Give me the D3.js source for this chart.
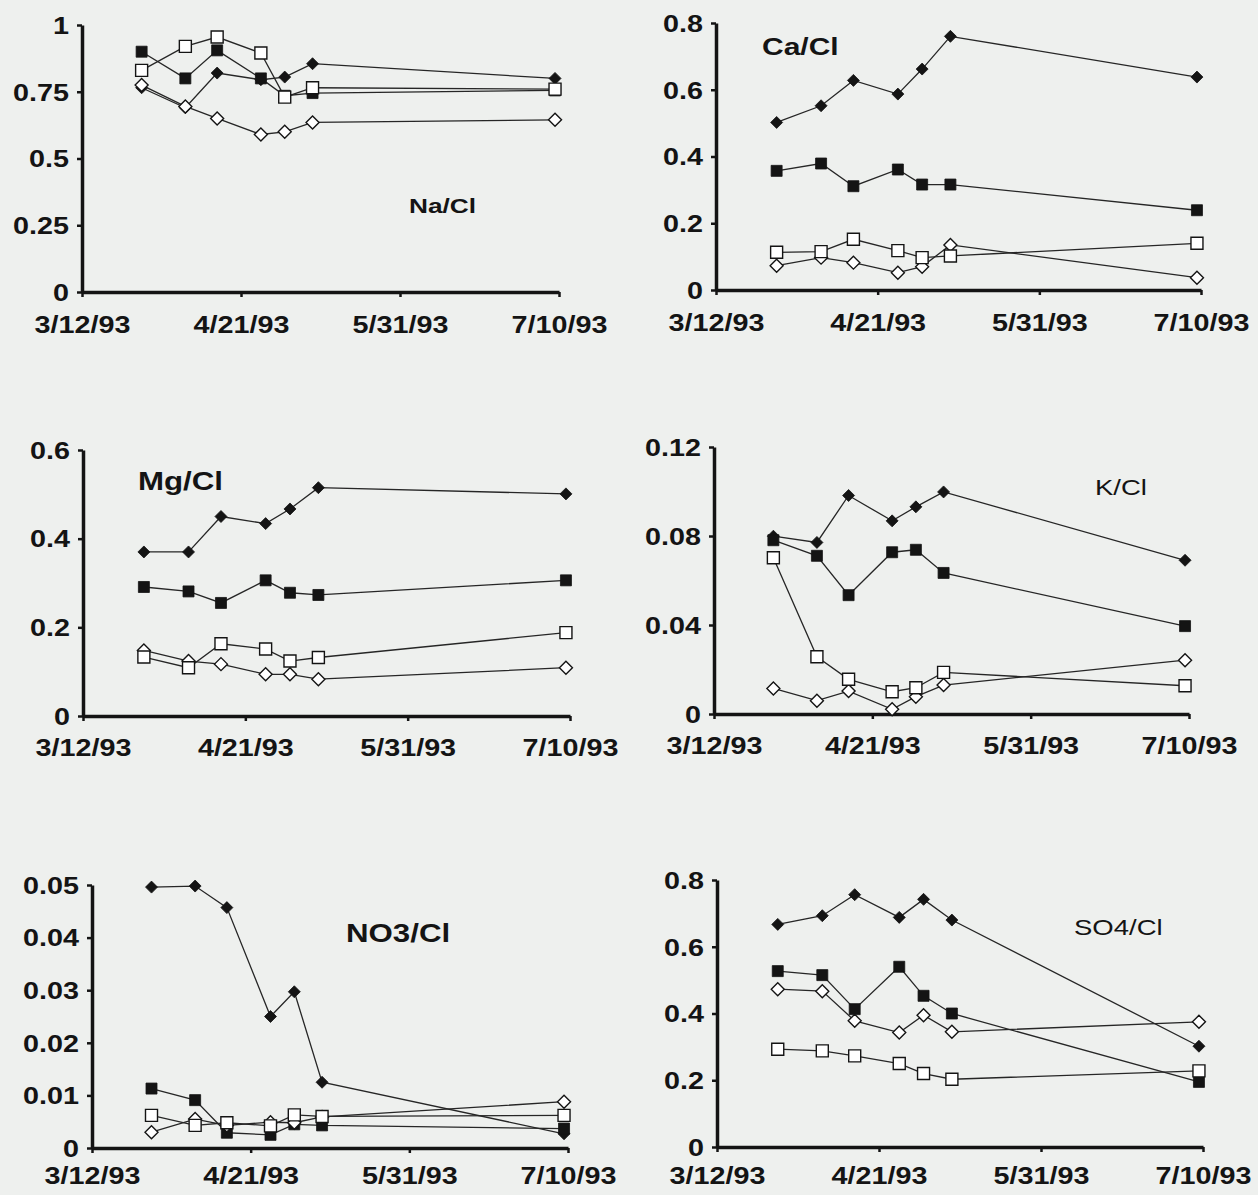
<!DOCTYPE html>
<html>
<head>
<meta charset="utf-8">
<script src="https://cdn.jsdelivr.net/npm/d3@7"></script>
<style>
  html, body { margin: 0; padding: 0; background: #eef0ee; }
  svg { display: block; font-family: "Liberation Sans", Arial, sans-serif; }
</style>
</head>
<body>
<div id="chart"></div>
<script>
(() => {

// sampling dates and x axis ticks
const sampleDates = ['1993-03-27', '1993-04-07', '1993-04-15', '1993-04-26', '1993-05-02', '1993-05-09', '1993-07-09'];
const xTickDates = ['1993-03-12', '1993-04-21', '1993-05-31', '1993-07-10'];

// series order inside each panel: filled diamond, filled square, open diamond, open square
const seriesKinds = ['filledDiamond', 'filledSquare', 'openDiamond', 'openSquare'];

const naCl = [
  [0.765, 0.69, 0.82, 0.795, 0.805, 0.855, 0.80],
  [0.90, 0.80, 0.905, 0.80, 0.735, 0.745, 0.755],
  [0.775, 0.695, 0.65, 0.59, 0.60, 0.635, 0.645],
  [0.83, 0.92, 0.955, 0.895, 0.73, 0.765, 0.76]
];
const caCl = [
  [0.502, 0.552, 0.628, 0.587, 0.662, 0.760, 0.638],
  [0.357, 0.379, 0.311, 0.361, 0.316, 0.316, 0.239],
  [0.073, 0.097, 0.082, 0.052, 0.070, 0.135, 0.037],
  [0.113, 0.115, 0.152, 0.118, 0.097, 0.102, 0.140]
];
const mgCl = [
  [0.370, 0.370, 0.450, 0.434, 0.467, 0.515, 0.501],
  [0.291, 0.281, 0.255, 0.306, 0.278, 0.273, 0.306],
  [0.148, 0.124, 0.117, 0.094, 0.094, 0.083, 0.109],
  [0.133, 0.109, 0.163, 0.151, 0.124, 0.132, 0.188]
];
const kCl = [
  [0.0799, 0.0771, 0.0982, 0.0868, 0.0931, 0.0998, 0.0691],
  [0.0781, 0.0711, 0.0534, 0.0727, 0.0738, 0.0634, 0.0395],
  [0.0115, 0.0060, 0.0103, 0.0021, 0.0078, 0.0130, 0.0242],
  [0.0702, 0.0257, 0.0156, 0.0100, 0.0118, 0.0187, 0.0127]
];
const no3Cl = [
  [0.0496, 0.0498, 0.0457, 0.0250, 0.0297, 0.0125, 0.0027],
  [0.0113, 0.0091, 0.0029, 0.0025, 0.0045, 0.0043, 0.0037],
  [0.0030, 0.0055, 0.0043, 0.0049, 0.0048, 0.0059, 0.0088],
  [0.0062, 0.0043, 0.0048, 0.0042, 0.0063, 0.0060, 0.0062]
];
const so4Cl = [
  [0.667, 0.693, 0.756, 0.688, 0.742, 0.680, 0.302],
  [0.527, 0.515, 0.413, 0.540, 0.453, 0.400, 0.195],
  [0.473, 0.467, 0.378, 0.343, 0.395, 0.345, 0.375],
  [0.293, 0.288, 0.273, 0.250, 0.220, 0.203, 0.228]
];

const titles = ['Na/Cl', 'Ca/Cl', 'Mg/Cl', 'K/Cl', 'NO3/Cl', 'SO4/Cl'];
const yTicks = [
  [0, 0.25, 0.5, 0.75, 1],
  [0, 0.2, 0.4, 0.6, 0.8],
  [0, 0.2, 0.4, 0.6],
  [0, 0.04, 0.08, 0.12],
  [0, 0.01, 0.02, 0.03, 0.04, 0.05],
  [0, 0.2, 0.4, 0.6, 0.8]
];
const yTickLabels = [
  ['0', '0.25', '0.5', '0.75', '1'],
  ['0', '0.2', '0.4', '0.6', '0.8'],
  ['0', '0.2', '0.4', '0.6'],
  ['0', '0.04', '0.08', '0.12'],
  ['0', '0.01', '0.02', '0.03', '0.04', '0.05'],
  ['0', '0.2', '0.4', '0.6', '0.8']
];
const panelData = [naCl, caCl, mgCl, kCl, no3Cl, so4Cl];

// layout (pixel boxes of each plot area, title placement)
const layout = [
  {left: 82,  right: 559,  top: 25,  bottom: 292,  labelY: 41, title: {x: 409,  y: 213, size: 21, weight: 'bold'}},
  {left: 716, right: 1201, top: 23,  bottom: 290,  labelY: 41, title: {x: 762,  y: 55,  size: 24, weight: 'bold'}},
  {left: 83,  right: 570,  top: 450, bottom: 716,  labelY: 40, title: {x: 138,  y: 490, size: 25, weight: 'bold'}},
  {left: 714, right: 1189, top: 447, bottom: 714,  labelY: 40, title: {x: 1095, y: 495, size: 22, weight: 'normal'}},
  {left: 92,  right: 568,  top: 885, bottom: 1148, labelY: 36, title: {x: 346,  y: 942, size: 25, weight: 'bold'}},
  {left: 717, right: 1203, top: 880, bottom: 1147, labelY: 37, title: {x: 1074, y: 935, size: 22, weight: 'normal'}}
];

const config = {
  width: 1258,
  height: 1195,
  bg: '#eef0ee',
  ink: '#141414',
  lineColor: '#262626',
  stretch: 1.25,   // scanned text is wider than normal
  tickFont: 23
};

const parseDate = d3.timeParse('%Y-%m-%d');
const fmt = d3.timeFormat('%-m/%-d/%y');
const dates = sampleDates.map(parseDate);
const xTicks = xTickDates.map(parseDate);

// marker shapes
const markerPath = {
  filledDiamond: 'M0,-6L6,0L0,6L-6,0Z',
  filledSquare: 'M-5.5,-5.5H5.5V5.5H-5.5Z',
  openDiamond: 'M0,-6.5L6.5,0L0,6.5L-6.5,0Z',
  openSquare: 'M-6,-6H6V6H-6Z'
};

const svg = d3.select('#chart')
  .append('svg')
  .attr('width', config.width)
  .attr('height', config.height);

svg.append('rect')
  .attr('width', config.width)
  .attr('height', config.height)
  .attr('fill', config.bg);

panelData.forEach((series, p) => {
  const box = layout[p];
  const ticks = yTicks[p];

  const scaleX = d3.scaleTime()
    .domain([xTicks[0], xTicks[xTicks.length - 1]])
    .range([box.left, box.right]);

  const scaleY = d3.scaleLinear()
    .domain([0, ticks[ticks.length - 1]])
    .range([box.bottom, box.top]);

  const g = svg.append('g');

  // y axis
  const yAxis = d3.axisLeft(scaleY)
    .tickValues(ticks)
    .tickFormat((d, i) => yTickLabels[p][i])
    .tickSize(5)
    .tickSizeOuter(0);

  const yG = g.append('g')
    .attr('transform', `translate(${box.left},0)`)
    .call(yAxis);

  // x axis
  const xAxis = d3.axisBottom(scaleX)
    .tickValues(xTicks)
    .tickFormat(fmt)
    .tickSize(5)
    .tickSizeOuter(0);

  const xG = g.append('g')
    .attr('transform', `translate(0,${box.bottom})`)
    .call(xAxis);

  [xG, yG].forEach(ax => {
    ax.select('.domain')
      .attr('stroke', config.ink)
      .attr('stroke-width', 3.5);
    ax.selectAll('.tick line')
      .attr('stroke', config.ink)
      .attr('stroke-width', 2.5);
    ax.selectAll('.tick text')
      .attr('fill', config.ink)
      .style('font-size', config.tickFont + 'px')
      .style('font-weight', 'bold')
      .style('font-family', '"Liberation Sans", Arial, sans-serif');
  });

  yG.selectAll('.tick text')
    .attr('x', -13 / config.stretch)
    .attr('dy', '0.36em')
    .attr('transform', `scale(${config.stretch},1)`);

  xG.selectAll('.tick text')
    .attr('y', box.labelY)
    .attr('dy', 0)
    .attr('transform', `scale(${config.stretch},1)`);

  // series lines + markers
  const line = d3.line()
    .x((d, i) => scaleX(dates[i]))
    .y(d => scaleY(d));

  series.forEach((values, s) => {
    const kind = seriesKinds[s];
    const filled = kind.startsWith('filled');

    g.append('path')
      .datum(values)
      .attr('d', line)
      .attr('fill', 'none')
      .attr('stroke', config.lineColor)
      .attr('stroke-width', 1.3);

    g.selectAll(`.m-${kind}`)
      .data(values)
      .enter()
      .append('path')
      .attr('class', `m-${kind}`)
      .attr('transform', (d, i) => `translate(${scaleX(dates[i])},${scaleY(d)})`)
      .attr('d', markerPath[kind])
      .attr('fill', filled ? config.ink : '#ffffff')
      .attr('stroke', config.ink)
      .attr('stroke-width', filled ? 0.8 : 1.4);
  });

  // panel caption
  g.append('text')
    .attr('transform', `translate(${box.title.x},${box.title.y}) scale(${config.stretch},1)`)
    .style('font-size', box.title.size + 'px')
    .style('font-weight', box.title.weight)
    .attr('fill', config.ink)
    .text(titles[p]);
});

})();
</script>
</body>
</html>
